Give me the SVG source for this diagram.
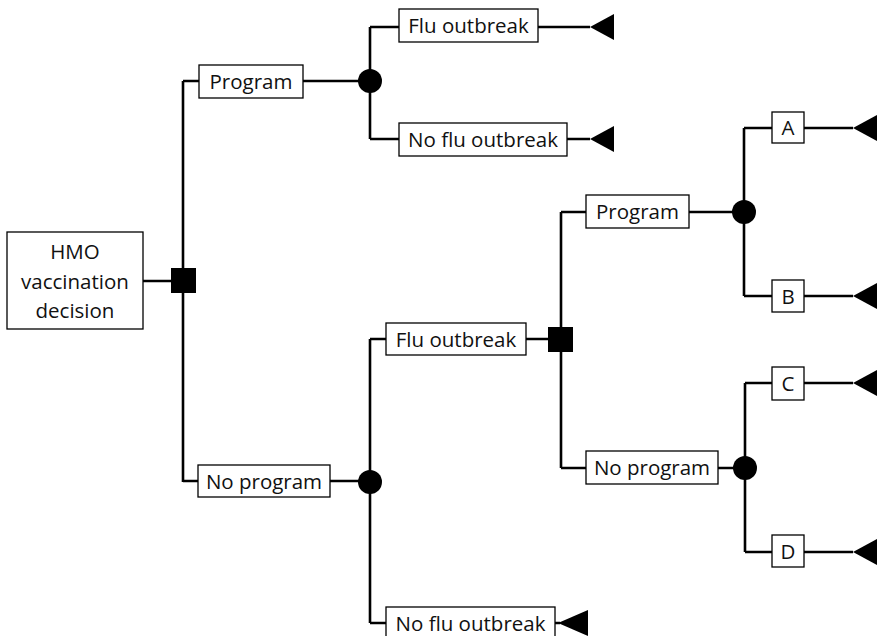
<svg xmlns="http://www.w3.org/2000/svg" width="877" height="636" viewBox="0 0 877 636">
<style>
.box{fill:#fff;stroke:#000;stroke-width:1.3}
.t{font-family:"Open Sans","Noto Sans",sans-serif;font-size:20.5px;fill:#111;text-anchor:middle;dominant-baseline:central}
.ln{fill:none;stroke:#000;stroke-width:2.6}
.term{fill:#000}
</style>
<rect width="877" height="636" fill="#fff"/>
<g id="connectors">
<path class="ln" d="M143,281 H183 M183,81 V482 M183,81 H199 M183,481 H198"/>
<path class="ln" d="M303,81 H370 M370,27 V139 M370,27 H399 M370,139 H399 M538,27 H590 M567,139 H590"/>
<path class="ln" d="M330,481 H370 M370,339 V623 M370,339 H386 M370,623 H386 M526,339 H561 M555,623 H560"/>
<path class="ln" d="M561,212 V468 M561,212 H586 M561,468 H586"/>
<path class="ln" d="M689,212 H744 M744,128 V296 M744,128 H772 M744,296 H772 M804,128 H853 M804,296 H853"/>
<path class="ln" d="M718,468 H745 M745,383 V552 M745,383 H772 M745,552 H772 M804,383 H853 M804,552 H853"/>
</g>
<g id="root">
<rect class="box" x="7" y="232" width="136" height="97"/>
<text class="t" x="75" y="251">HMO</text>
<text class="t" x="75" y="281">vaccination</text>
<text class="t" x="75" y="310">decision</text>
</g>
<g id="decision1"><rect class="term" x="171" y="268" width="25" height="25"/></g>
<g id="program1"><rect class="box" x="199" y="65" width="104" height="33"/><text class="t" x="251" y="81">Program</text></g>
<g id="chance1"><circle class="term" cx="370" cy="81" r="12"/></g>
<g id="flu1"><rect class="box" x="399" y="9" width="139" height="33"/><text class="t" x="468.5" y="25">Flu outbreak</text></g>
<g id="end1"><polygon class="term" points="590,27 614,14 614,40"/></g>
<g id="noflu1"><rect class="box" x="399" y="123" width="168" height="33"/><text class="t" x="483" y="139">No flu outbreak</text></g>
<g id="end2"><polygon class="term" points="590,139 614,126 614,152"/></g>
<g id="noprogram1"><rect class="box" x="198" y="465" width="132" height="32"/><text class="t" x="264" y="481">No program</text></g>
<g id="chance2"><circle class="term" cx="370" cy="482" r="12"/></g>
<g id="flu2"><rect class="box" x="386" y="323" width="140" height="32"/><text class="t" x="456" y="339">Flu outbreak</text></g>
<g id="decision2"><rect class="term" x="548" y="327" width="25" height="25"/></g>
<g id="noflu2"><rect class="box" x="386" y="607" width="169" height="32"/><text class="t" x="470.5" y="623">No flu outbreak</text></g>
<g id="end3"><polygon class="term" points="558,623 588,610 588,636"/></g>
<g id="program2"><rect class="box" x="586" y="195" width="103" height="33"/><text class="t" x="637.5" y="211">Program</text></g>
<g id="chance3"><circle class="term" cx="744" cy="212" r="12"/></g>
<g id="A"><rect class="box" x="772" y="112" width="32" height="31"/><text class="t" x="788" y="127">A</text></g>
<g id="endA"><polygon class="term" points="853,128 877,115 877,141"/></g>
<g id="B"><rect class="box" x="772" y="280" width="32" height="32"/><text class="t" x="788" y="296">B</text></g>
<g id="endB"><polygon class="term" points="853,296 877,283 877,309"/></g>
<g id="noprogram2"><rect class="box" x="586" y="451" width="132" height="33"/><text class="t" x="652" y="467">No program</text></g>
<g id="chance4"><circle class="term" cx="745" cy="468" r="12"/></g>
<g id="C"><rect class="box" x="772" y="367" width="32" height="33"/><text class="t" x="788" y="383">C</text></g>
<g id="endC"><polygon class="term" points="853,383 877,370 877,396"/></g>
<g id="D"><rect class="box" x="772" y="535" width="32" height="32"/><text class="t" x="788" y="551">D</text></g>
<g id="endD"><polygon class="term" points="853,552 877,539 877,565"/></g>
</svg>
